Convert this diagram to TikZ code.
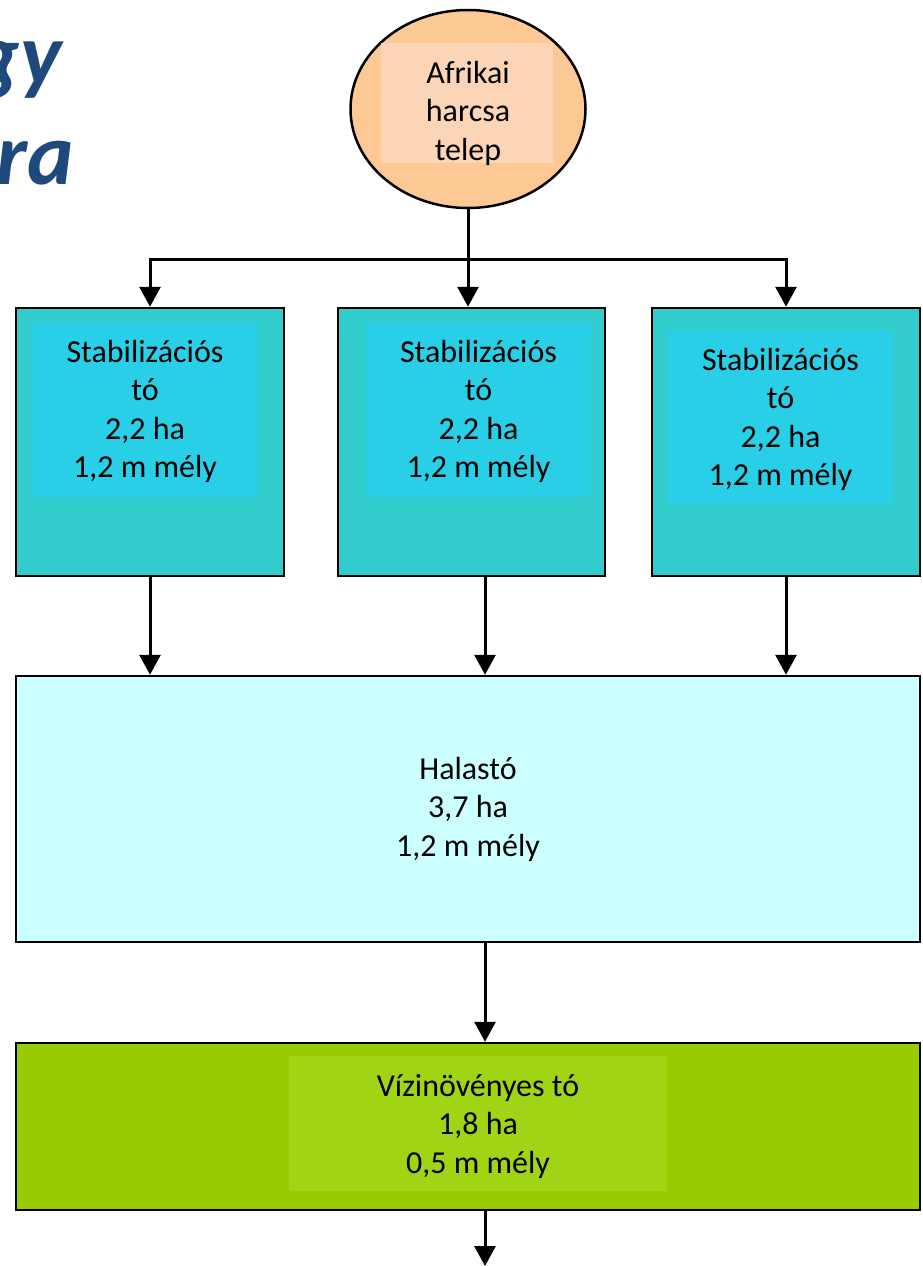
\documentclass[tikz,border=0pt]{standalone}
\usepackage{fontspec}
\setmainfont{Carlito}
\usetikzlibrary{shapes,shapes.geometric,arrows.meta,calc}

\definecolor{titleblue}{HTML}{1F497D}
\definecolor{orangefill}{HTML}{FCC995}
\definecolor{orangeinner}{HTML}{FBD5B5}
\definecolor{tealfill}{HTML}{33CCCC}
\definecolor{tealinner}{HTML}{29CFE6}
\definecolor{halfill}{HTML}{CCFFFF}
\definecolor{greenfill}{HTML}{99CC00}
\definecolor{greeninner}{HTML}{A0D414}

\begin{document}
\begin{tikzpicture}
	[x=1pt,y=-1pt,line width=3pt,
	every node/.style={inner sep=0pt,font=\fontsize{32}{38.5}\selectfont,align=center},
	pondbox/.style={draw,rectangle,line width=2.5pt},
	arr/.style={-{Triangle[length=20pt,width=21pt]}}]
	\useasboundingbox (0,0) rectangle (922,1266);
	
	% cut-off title
	\node[anchor=base east,text=titleblue,font=\fontsize{88}{100}\bfseries\itshape\selectfont] (title1) at (63,84) {gy};
	\node[anchor=base east,text=titleblue,font=\fontsize{88}{100}\bfseries\itshape\selectfont] (title2) at (75,184) {ra};
	
	% source
	\node[ellipse,draw,line width=2.5pt,fill=orangefill,minimum width=235pt,minimum height=198pt] (telep) at (468,109) {};
	\fill[orangeinner] (381,43) rectangle (553,163);
	\node (telepTxt) at (468,113) {Afrikai\\harcsa\\telep};
	
	% stabilisation ponds
	\node[pondbox,fill=tealfill,minimum width=268pt,minimum height=268pt] (stab1) at (150,442) {};
	\node[pondbox,fill=tealfill,minimum width=267pt,minimum height=268pt] (stab2) at (471.5,442) {};
	\node[pondbox,fill=tealfill,minimum width=268pt,minimum height=268pt] (stab3) at (786,442) {};
	\fill[tealinner] (32,322) rectangle (258,497);
	\fill[tealinner] (366,322) rectangle (591,497);
	\fill[tealinner] (668,330) rectangle (893,505);
	\node (in1) at (145,411.5) {Stabilizációs\\tó\\2,2 ha\\1,2 m mély};
	\node (in2) at (478.5,411.5) {Stabilizációs\\tó\\2,2 ha\\1,2 m mély};
	\node (in3) at (780.5,419.5) {Stabilizációs\\tó\\2,2 ha\\1,2 m mély};
	
	% fish pond
	\node[pondbox,fill=halfill,minimum width=904pt,minimum height=266pt] (halasto) at (468,809) {Halastó\\3,7 ha\\1,2 m mély};
	
	% plant pond
	\node[pondbox,fill=greenfill,minimum width=904pt,minimum height=167pt] (vizi) at (468,1126.5) {};
	\fill[greeninner] (289,1056) rectangle (667,1191);
	\node (viziTxt) at (478,1126.5) {Vízinövényes tó\\1,8 ha\\0,5 m mély};
	
	\coordinate (split) at (468,259);
	\coordinate (kimenet) at (485,1266);
	
	% connectors
	\draw (telep.south) -- (split);
	\draw[arr] (split) -- (split |- stab2.north);
	\draw[arr] (split) -| (stab1.north);
	\draw[arr] (split) -| (stab3.north);
	\draw[arr] (stab1.south) -- (stab1.south |- halasto.north);
	\draw[arr] ($(stab2.south)+(13.5,0)$) -- ($(stab2.south |- halasto.north)+(13.5,0)$);
	\draw[arr] (stab3.south) -- (stab3.south |- halasto.north);
	\draw[arr] ($(halasto.south)+(17,0)$) -- ($(halasto.south |- vizi.north)+(17,0)$);
	\draw[arr] ($(vizi.south)+(17,0)$) -- (kimenet);
\end{tikzpicture}
\end{document}
